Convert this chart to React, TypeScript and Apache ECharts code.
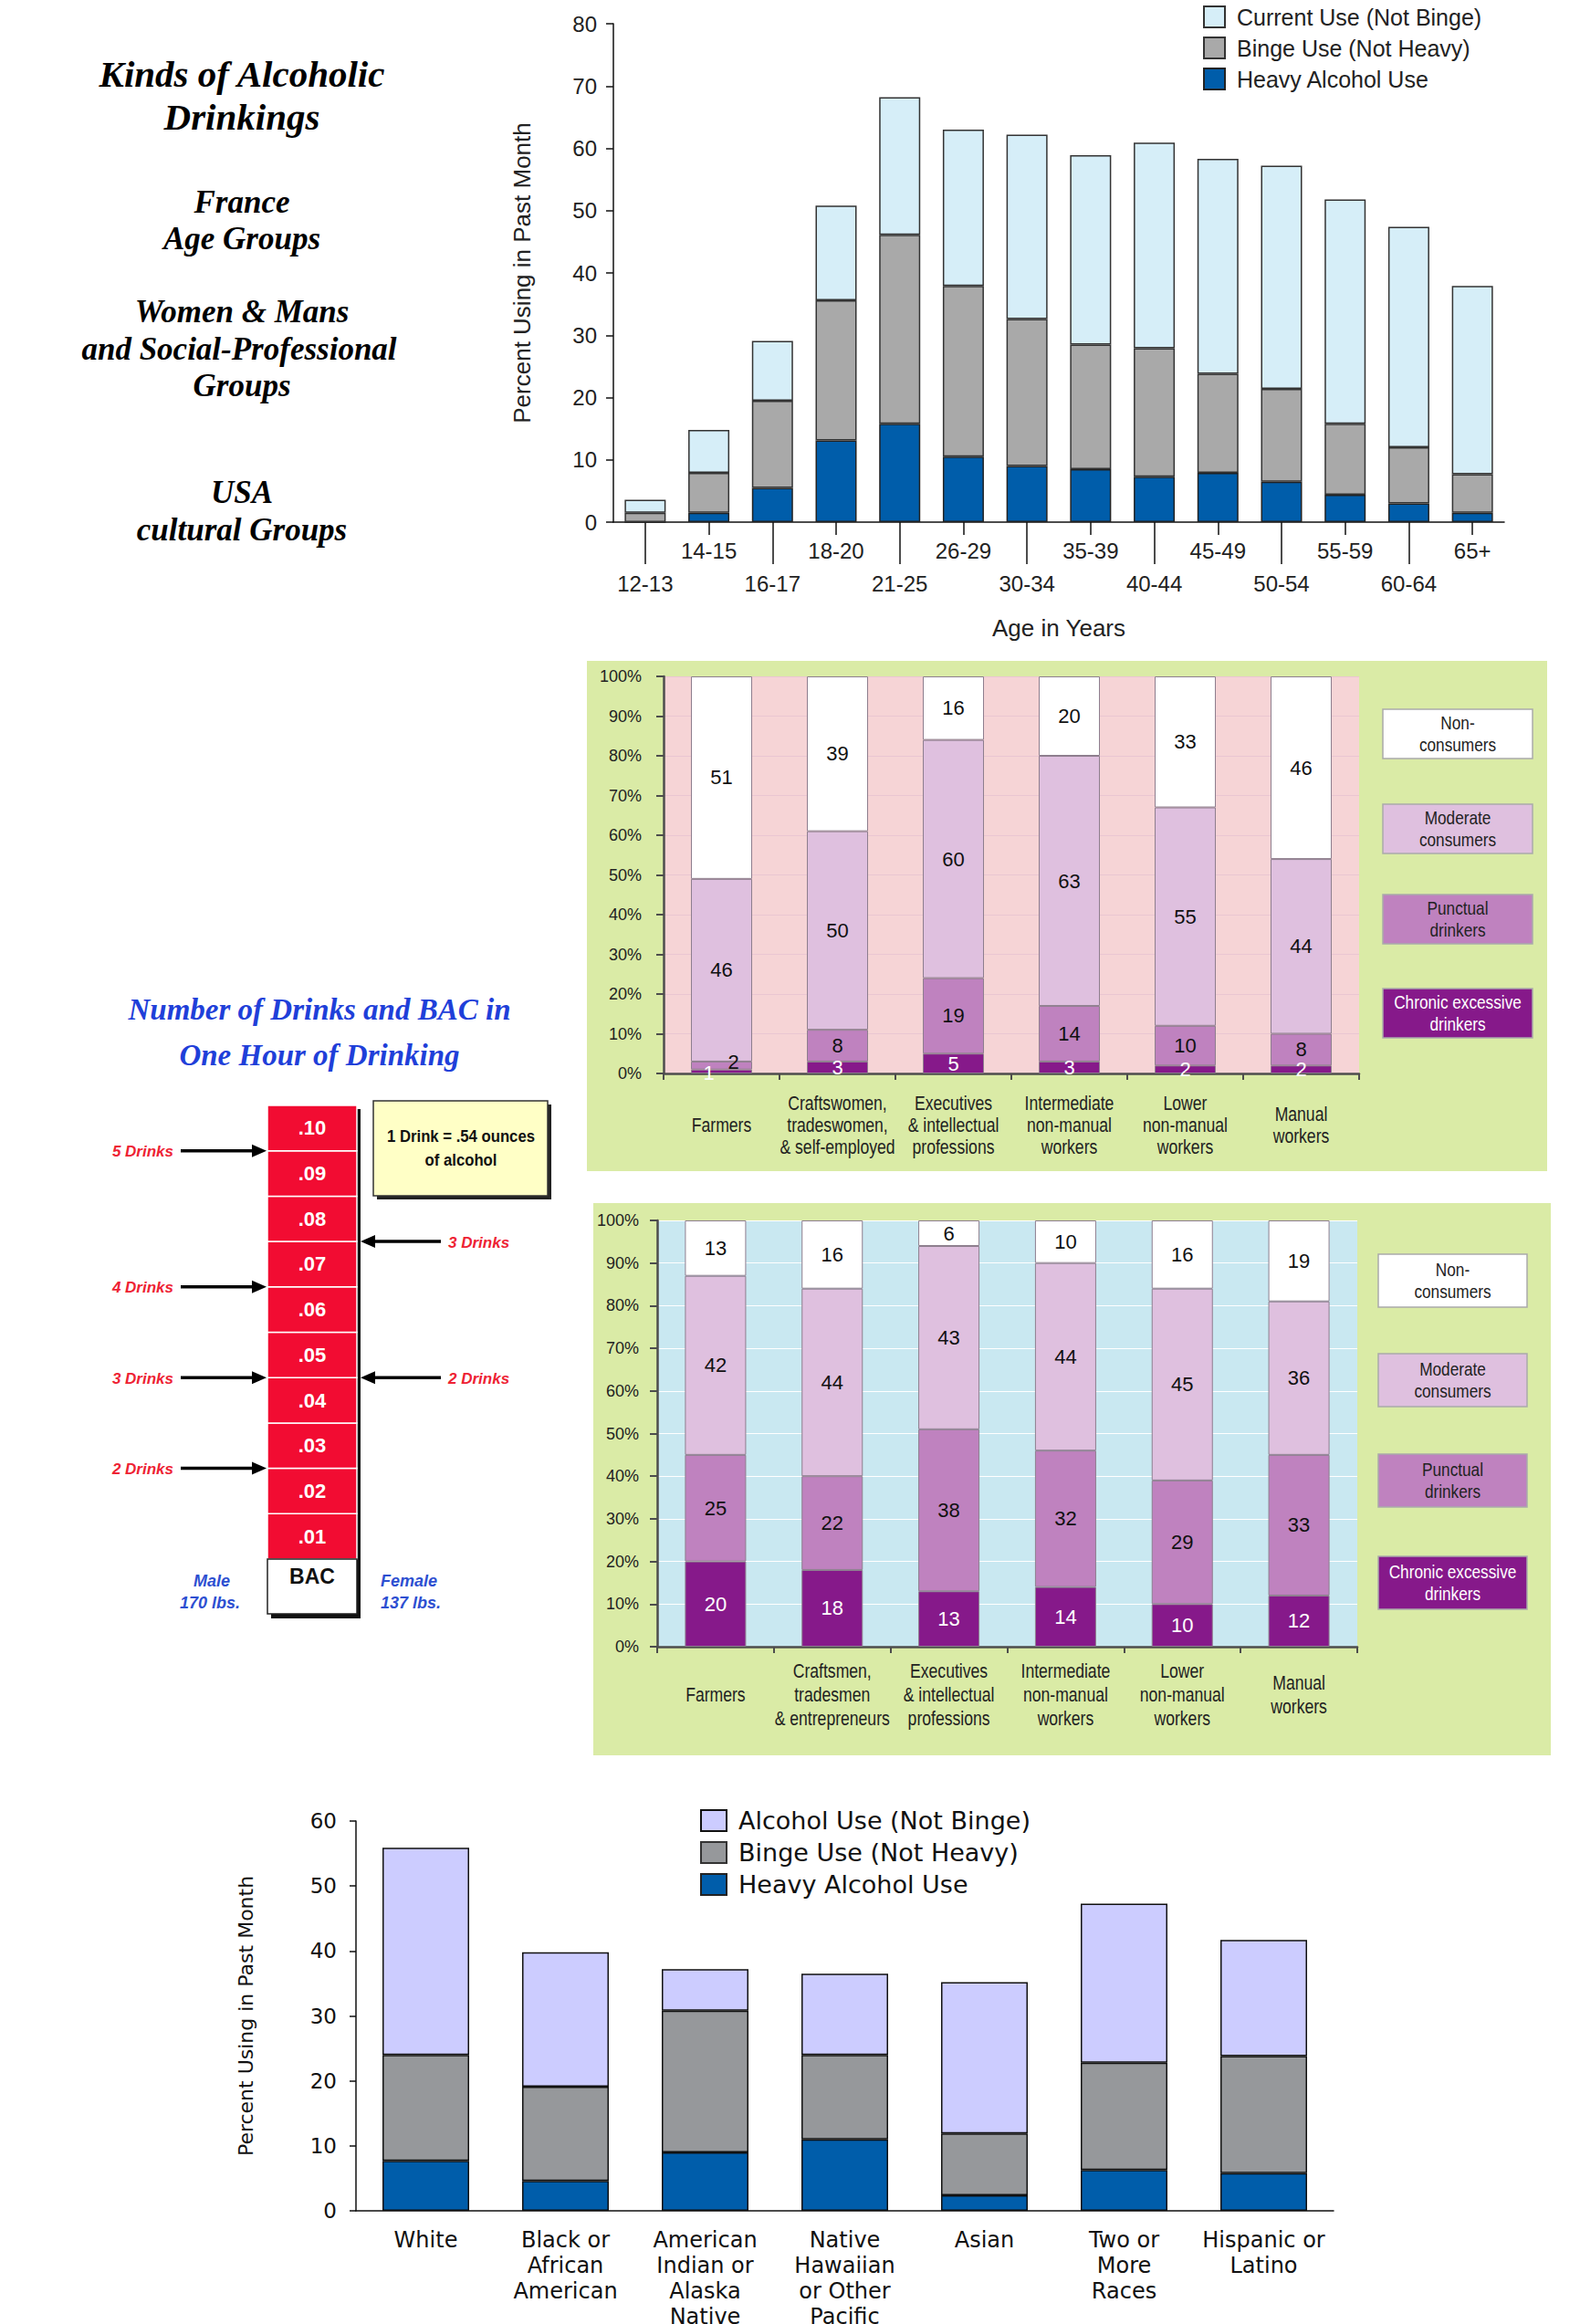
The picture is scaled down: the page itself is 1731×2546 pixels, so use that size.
import React, { useEffect, useRef } from 'react';
import * as echarts from 'echarts';

// ---------- Data ----------
const AGE_GROUPS = ['12-13', '14-15', '16-17', '18-20', '21-25', '26-29', '30-34', '35-39', '40-44', '45-49', '50-54', '55-59', '60-64', '65+'];
const AGE_HEAVY = [0, 1.5, 5.5, 13.1, 15.8, 10.5, 9.0, 8.5, 7.3, 7.9, 6.5, 4.4, 3.0, 1.5];
const AGE_BINGE = [1.5, 6.4, 14.0, 22.5, 30.3, 27.4, 23.6, 20.0, 20.6, 15.9, 14.9, 11.4, 9.0, 6.2];
const AGE_CURRENT = [2.1, 6.9, 9.6, 15.2, 22.1, 25.1, 29.6, 30.4, 33.0, 34.5, 35.8, 36.0, 35.4, 30.2];

const FR_CATEGORIES = ['Non-consumers', 'Moderate consumers', 'Punctual drinkers', 'Chronic excessive drinkers'];
const FR_LEGEND_TEXT = ['Non-\nconsumers', 'Moderate\nconsumers', 'Punctual\ndrinkers', 'Chronic excessive\ndrinkers'];

const FR_WOMEN_GROUPS = ['Farmers', 'Craftswomen,\ntradeswomen,\n& self-employed', 'Executives\n& intellectual\nprofessions', 'Intermediate\nnon-manual\nworkers', 'Lower\nnon-manual\nworkers', 'Manual\nworkers'];
const W_CHRONIC = [1, 3, 5, 3, 2, 2];
const W_PUNCTUAL = [2, 8, 19, 14, 10, 8];
const W_MODERATE = [46, 50, 60, 63, 55, 44];
const W_NON = [51, 39, 16, 20, 33, 46];

const FR_MEN_GROUPS = ['Farmers', 'Craftsmen,\ntradesmen\n& entrepreneurs', 'Executives\n& intellectual\nprofessions', 'Intermediate\nnon-manual\nworkers', 'Lower\nnon-manual\nworkers', 'Manual\nworkers'];
const M_CHRONIC = [20, 18, 13, 14, 10, 12];
const M_PUNCTUAL = [25, 22, 38, 32, 29, 33];
const M_MODERATE = [42, 44, 43, 44, 45, 36];
const M_NON = [13, 16, 6, 10, 16, 19];

const USA_GROUPS = ['White', 'Black or\nAfrican\nAmerican', 'American\nIndian or\nAlaska\nNative', 'Native\nHawaiian\nor Other\nPacific\nIslander', 'Asian', 'Two or\nMore\nRaces', 'Hispanic or\nLatino'];
const USA_HEAVY = [7.7, 4.6, 9.0, 11.0, 2.4, 6.3, 5.8];
const USA_BINGE = [16.3, 14.5, 21.8, 13.0, 9.5, 16.5, 18.0];
const USA_ALCOHOL = [31.9, 20.7, 6.4, 12.5, 23.3, 24.5, 17.9];

const BAC_LEVELS = [0.01, 0.02, 0.03, 0.04, 0.05, 0.06, 0.07, 0.08, 0.09, 0.10];
const MALE_MARKS = [
  { drinks: 5, bac: 0.09 },
  { drinks: 4, bac: 0.06 },
  { drinks: 3, bac: 0.04 },
  { drinks: 2, bac: 0.02 },
];
const FEMALE_MARKS = [
  { drinks: 3, bac: 0.07 },
  { drinks: 2, bac: 0.04 },
];

// ---------- Styles ----------
const SANS = '"Liberation Sans", Arial, sans-serif';
const WIDE = '"DejaVu Sans", sans-serif';
const SERIF = '"Liberation Serif", "Times New Roman", serif';

const C_LIGHTBLUE = '#D6EEF8';
const C_GRAY1 = '#A9A9A9';
const C_BLUE = '#005DAA';
const C_LAVENDER = '#CCCCFF';
const C_GRAY4 = '#96989B';
const FR_COLORS = ['#FFFFFF', '#DFC0DF', '#BF82BF', '#86198A'];
const C_GREEN = '#DAEBA6';
const C_PINK = '#F6D4D6';
const C_PALEBLUE = '#C9E8F1';
const C_RED = '#F20C32';
const C_TITLEBLUE = '#1F3FD9';
const C_LABELBLUE = '#2D4FD1';
const C_ARROWRED = '#EE2233';

function txt(text: string, x: number, y: number, o: any = {}) {
  const align = o.align || 'center';
  const va = o.va || 'middle';
  return {
    type: 'text',
    x,
    y,
    scaleX: o.scaleX ?? 1,
    z: o.z ?? 5,
    style: {
      text,
      x: 0,
      y: 0,
      fill: o.fill || '#000',
      fontSize: o.size || 20,
      fontFamily: o.family || SANS,
      fontWeight: o.weight || 'normal',
      fontStyle: o.style || 'normal',
      lineHeight: o.lineHeight,
      align,
      verticalAlign: va,
      textAlign: align,
      textVerticalAlign: va,
    },
  };
}

function rect(x: number, y: number, w: number, h: number, fill: string, o: any = {}) {
  return {
    type: 'rect',
    z: o.z ?? 1,
    shape: { x, y, width: w, height: h },
    style: { fill, stroke: o.stroke || null, lineWidth: o.lineWidth || 0 },
  };
}

function frLegend(x: number, tops: number[], w: number, h: number) {
  const els: any[] = [];
  FR_CATEGORIES.forEach((_, i) => {
    els.push(rect(x, tops[i], w, h, FR_COLORS[i], { stroke: '#ABABAB', lineWidth: 1.5, z: 3 }));
    els.push(
      txt(FR_LEGEND_TEXT[i], x + w / 2, tops[i] + h / 2, {
        size: 21,
        lineHeight: 24,
        scaleX: 0.82,
        fill: i === 3 ? '#FFFFFF' : '#222',
        z: 4,
      })
    );
  });
  return els;
}

function frSeries(name: string, data: any[], colorIdx: number, xi: number, yi: number, stack: string) {
  return {
    name,
    type: 'bar',
    stack,
    xAxisIndex: xi,
    yAxisIndex: yi,
    barWidth: 67,
    data,
    itemStyle: { color: FR_COLORS[colorIdx], borderColor: '#8E7E8E', borderWidth: 1 },
    label: {
      show: true,
      position: 'inside',
      fontFamily: SANS,
      fontSize: 22,
      color: colorIdx === 3 ? '#FFFFFF' : '#111',
    },
  };
}

// Category labels drawn through the category axis scale, horizontally condensed
function frLabelSeries(labels: string[], xi: number, yi: number, dy: number, lh: number) {
  return {
    name: 'labels-' + xi,
    type: 'custom',
    xAxisIndex: xi,
    yAxisIndex: yi,
    silent: true,
    clip: false,
    data: labels.map((_, i) => [i, 0]),
    encode: { x: 0, y: 1 },
    renderItem: (params: any, api: any) => {
      const p = api.coord([api.value(0), 0]);
      return {
        type: 'text',
        x: p[0],
        y: p[1] + dy,
        scaleX: 0.8,
        style: {
          text: labels[params.dataIndex],
          x: 0,
          y: 0,
          fill: '#222',
          fontSize: 22,
          lineHeight: lh,
          fontFamily: SANS,
          align: 'center',
          verticalAlign: 'middle',
          textAlign: 'center',
          textVerticalAlign: 'middle',
        },
      };
    },
  };
}

function frYAxis(gridIndex: number, split: string, margin: number) {
  return {
    type: 'value',
    gridIndex,
    min: 0,
    max: 100,
    interval: 10,
    axisLine: { show: true, lineStyle: { color: '#4D4D4D', width: 2.5 } },
    axisTick: { show: true, length: 8, lineStyle: { color: '#4D4D4D', width: 2 } },
    axisLabel: { formatter: '{value}%', fontFamily: SANS, fontSize: 18, color: '#222', margin },
    splitLine: { show: true, lineStyle: { color: split, width: 1.2 } },
  };
}

function frXAxis(gridIndex: number, data: string[]) {
  return {
    type: 'category',
    gridIndex,
    data,
    axisLine: { show: true, lineStyle: { color: '#4D4D4D', width: 2.5 } },
    axisTick: { show: true, length: 7, lineStyle: { color: '#4D4D4D', width: 2 } },
    axisLabel: { show: false },
  };
}

function buildOption(): any {
  const wChronic = W_CHRONIC.map((v, i) => (i === 0 ? { value: v, label: { offset: [-14, 2] } } : v));
  const wPunct = W_PUNCTUAL.map((v, i) => (i === 0 ? { value: v, label: { offset: [13, -4] } } : v));

  const title = { family: SERIF, weight: 'bold', style: 'italic' };
  const graphic: any[] = [
    // Left-hand titles
    txt('Kinds of Alcoholic', 265, 81, { ...title, size: 41 }),
    txt('Drinkings', 265, 128, { ...title, size: 41 }),
    txt('France', 265, 221, { ...title, size: 35 }),
    txt('Age Groups', 265, 261, { ...title, size: 35 }),
    txt('Women & Mans', 265, 341, { ...title, size: 35 }),
    txt('and Social-Professional', 262, 382, { ...title, size: 35 }),
    txt('Groups', 265, 422, { ...title, size: 35 }),
    txt('USA', 265, 539, { ...title, size: 35 }),
    txt('cultural Groups', 265, 580, { ...title, size: 35 }),

    // Green panels behind the French charts
    rect(643, 724, 1052, 559, C_GREEN, { z: -10 }),
    rect(650, 1318, 1049, 605, C_GREEN, { z: -10 }),

    ...frLegend(1515, [777, 881, 980, 1083], 164, 54),
    ...frLegend(1510, [1374, 1483, 1593, 1705], 163, 58),

    // BAC diagram
    txt('Number of Drinks and BAC in', 350, 1106, { ...title, size: 33, fill: C_TITLEBLUE }),
    txt('One Hour of Drinking', 350, 1156, { ...title, size: 33, fill: C_TITLEBLUE }),
    rect(297, 1215, 98, 558, '#111111', { z: 1 }),
    rect(293, 1708, 98, 60, '#FFFFFF', { stroke: '#222', lineWidth: 1.5, z: 3 }),
    txt('BAC', 342, 1727, { size: 23, weight: 'bold', fill: '#111', z: 4 }),
    txt('Male', 232, 1732, { size: 18, weight: 'bold', style: 'italic', fill: C_LABELBLUE }),
    txt('170 lbs.', 230, 1756, { size: 18, weight: 'bold', style: 'italic', fill: C_LABELBLUE }),
    txt('Female', 417, 1732, { size: 18, weight: 'bold', style: 'italic', fill: C_LABELBLUE, align: 'left' }),
    txt('137 lbs.', 417, 1756, { size: 18, weight: 'bold', style: 'italic', fill: C_LABELBLUE, align: 'left' }),
    rect(413, 1210, 191, 104, '#222222', { z: 1 }),
    rect(409, 1206, 191, 104, '#FFFFC6', { stroke: '#333', lineWidth: 1.5, z: 3 }),
    txt('1 Drink = .54 ounces', 505, 1245, { size: 19, weight: 'bold', fill: '#111', z: 4, scaleX: 0.88 }),
    txt('of alcohol', 505, 1271, { size: 19, weight: 'bold', fill: '#111', z: 4, scaleX: 0.88 }),
  ];

  const cellRender = (params: any, api: any) => {
    const v = api.value(1) as number;
    const tl = api.coord([0, v]);
    const br = api.coord([1, v - 0.01]);
    const label = '.' + String(Math.round(v * 100)).padStart(2, '0');
    return {
      type: 'group',
      children: [
        {
          type: 'rect',
          shape: { x: tl[0], y: tl[1], width: br[0] - tl[0], height: br[1] - tl[1] },
          style: { fill: C_RED, stroke: '#FFFFFF', lineWidth: 1.5 },
        },
        {
          type: 'text',
          style: {
            text: label,
            x: (tl[0] + br[0]) / 2,
            y: (tl[1] + br[1]) / 2,
            fill: '#FFFFFF',
            fontSize: 22,
            fontWeight: 'bold',
            fontFamily: SANS,
            align: 'center',
            verticalAlign: 'middle',
            textAlign: 'center',
            textVerticalAlign: 'middle',
          },
        },
      ],
    };
  };

  const arrowRender = (params: any, api: any) => {
    const side = api.value(0) as number;
    const p = api.coord([side, api.value(1)]);
    const drinks = api.value(2);
    const dir = side === 0 ? -1 : 1;
    const tip = p[0] + (side === 0 ? -1 : 4);
    const tail = p[0] + dir * (side === 0 ? 95 : 92);
    const y = p[1];
    const headLen = 16;
    const align = side === 0 ? 'right' : 'left';
    return {
      type: 'group',
      children: [
        {
          type: 'line',
          shape: { x1: tail, y1: y, x2: tip + dir * headLen * 0.8, y2: y },
          style: { stroke: '#000', lineWidth: 3.5 },
        },
        {
          type: 'polygon',
          shape: { points: [[tip, y], [tip + dir * headLen, y - 7], [tip + dir * headLen, y + 7]] },
          style: { fill: '#000' },
        },
        {
          type: 'text',
          style: {
            text: drinks + ' Drinks',
            x: tail + dir * 8,
            y: y + 1,
            fill: C_ARROWRED,
            fontSize: 17,
            fontWeight: 'bold',
            fontStyle: 'italic',
            fontFamily: SANS,
            align,
            verticalAlign: 'middle',
            textAlign: align,
            textVerticalAlign: 'middle',
          },
        },
      ],
    };
  };

  const noBounds = { outerBoundsMode: 'none', containLabel: false };

  return {
    animation: false,
    backgroundColor: '#FFFFFF',
    grid: [
      { left: 672, top: 26, width: 976, height: 546, ...noBounds },
      { left: 727, top: 741, width: 762, height: 435, show: true, backgroundColor: C_PINK, borderWidth: 0, ...noBounds },
      { left: 720, top: 1337, width: 767, height: 467, show: true, backgroundColor: C_PALEBLUE, borderWidth: 0, ...noBounds },
      { left: 390, top: 1995, width: 1071, height: 427, ...noBounds },
      { left: 293, top: 1211, width: 98, height: 497, ...noBounds },
    ],
    legend: [
      {
        left: 1318,
        top: 6,
        orient: 'vertical',
        padding: 0,
        itemWidth: 23,
        itemHeight: 23,
        itemGap: 9,
        selectedMode: false,
        icon: 'rect',
        data: [
          { name: 'Current Use (Not Binge)', itemStyle: { color: C_LIGHTBLUE } },
          { name: 'Binge Use (Not Heavy)', itemStyle: { color: C_GRAY1 } },
          { name: 'Heavy Alcohol Use', itemStyle: { color: C_BLUE } },
        ],
        textStyle: { fontFamily: SANS, fontSize: 25, lineHeight: 23, color: '#222', padding: [0, 0, 0, 8] },
      },
      {
        left: 767,
        top: 1981,
        orient: 'vertical',
        padding: 0,
        itemWidth: 28,
        itemHeight: 23,
        itemGap: 8,
        selectedMode: false,
        icon: 'rect',
        data: [
          { name: 'Alcohol Use (Not Binge)', itemStyle: { color: C_LAVENDER } },
          { name: 'Binge Use (Not Heavy)', itemStyle: { color: C_GRAY4 } },
          { name: 'Heavy Alcohol Use', itemStyle: { color: C_BLUE } },
        ],
        textStyle: { fontFamily: WIDE, fontSize: 27, lineHeight: 23, color: '#111', padding: [0, 0, 0, 8] },
      },
    ],
    xAxis: [
      {
        type: 'category',
        gridIndex: 0,
        data: AGE_GROUPS,
        position: 'bottom',
        axisLine: { show: true, lineStyle: { color: '#111', width: 1.5 } },
        axisTick: { show: true, alignWithLabel: true, length: 46, interval: (i: number) => i % 2 === 0, lineStyle: { color: '#111', width: 1.5 } },
        axisLabel: { interval: (i: number) => i % 2 === 0, margin: 55, fontFamily: SANS, fontSize: 24, color: '#222' },
        name: 'Age in Years',
        nameLocation: 'middle',
        nameGap: 103,
        nameTextStyle: { fontFamily: SANS, fontSize: 26, color: '#222' },
      },
      {
        type: 'category',
        gridIndex: 0,
        data: AGE_GROUPS,
        position: 'bottom',
        offset: 0,
        axisLine: { show: false },
        axisTick: { show: true, alignWithLabel: true, length: 14, interval: (i: number) => i % 2 === 1, lineStyle: { color: '#111', width: 1.5 } },
        axisLabel: { interval: (i: number) => i % 2 === 1, margin: 19, fontFamily: SANS, fontSize: 24, color: '#222' },
      },
      frXAxis(1, FR_WOMEN_GROUPS),
      frXAxis(2, FR_MEN_GROUPS),
      {
        type: 'category',
        gridIndex: 3,
        data: USA_GROUPS,
        axisLine: { show: true, lineStyle: { color: '#111', width: 1.5 } },
        axisTick: { show: false },
        axisLabel: { interval: 0, margin: 18, fontFamily: WIDE, fontSize: 24, lineHeight: 28, color: '#111' },
      },
      { type: 'value', gridIndex: 4, min: 0, max: 1, show: false },
    ],
    yAxis: [
      {
        type: 'value',
        gridIndex: 0,
        min: 0,
        max: 80,
        interval: 10,
        axisLine: { show: true, lineStyle: { color: '#111', width: 1.5 } },
        axisTick: { show: true, length: 8, lineStyle: { color: '#111', width: 1.5 } },
        axisLabel: { margin: 18, fontFamily: SANS, fontSize: 24, color: '#222' },
        splitLine: { show: false },
        name: 'Percent Using in Past Month',
        nameLocation: 'middle',
        nameGap: 87,
        nameTextStyle: { fontFamily: SANS, fontSize: 26, color: '#222' },
      },
      frYAxis(1, '#EAC6D2', 24),
      frYAxis(2, '#FFFFFF', 20),
      {
        type: 'value',
        gridIndex: 3,
        min: 0,
        max: 60,
        interval: 10,
        axisLine: { show: true, lineStyle: { color: '#111', width: 1.5 } },
        axisTick: { show: true, length: 7, lineStyle: { color: '#111', width: 1.5 } },
        axisLabel: { margin: 21, fontFamily: WIDE, fontSize: 23, color: '#111' },
        splitLine: { show: false },
        name: 'Percent Using in Past Month',
        nameLocation: 'middle',
        nameGap: 110,
        nameTextStyle: { fontFamily: WIDE, fontSize: 22, color: '#111' },
      },
      { type: 'value', gridIndex: 4, min: 0, max: 0.1, show: false },
    ],
    series: [
      // Age chart
      { name: 'Heavy Alcohol Use', type: 'bar', stack: 'age', xAxisIndex: 0, yAxisIndex: 0, barWidth: 45, data: AGE_HEAVY, itemStyle: { color: C_BLUE, borderColor: '#222', borderWidth: 1.5 } },
      { name: 'Binge Use (Not Heavy)', type: 'bar', stack: 'age', xAxisIndex: 0, yAxisIndex: 0, barWidth: 45, data: AGE_BINGE, itemStyle: { color: C_GRAY1, borderColor: '#333', borderWidth: 1.5 } },
      { name: 'Current Use (Not Binge)', type: 'bar', stack: 'age', xAxisIndex: 0, yAxisIndex: 0, barWidth: 45, data: AGE_CURRENT, itemStyle: { color: C_LIGHTBLUE, borderColor: '#333', borderWidth: 1.5 } },

      // France women
      frSeries(FR_CATEGORIES[3], wChronic, 3, 2, 1, 'w'),
      frSeries(FR_CATEGORIES[2], wPunct, 2, 2, 1, 'w'),
      frSeries(FR_CATEGORIES[1], W_MODERATE, 1, 2, 1, 'w'),
      frSeries(FR_CATEGORIES[0], W_NON, 0, 2, 1, 'w'),
      frLabelSeries(FR_WOMEN_GROUPS, 2, 1, 56, 24),

      // France men
      frSeries(FR_CATEGORIES[3], M_CHRONIC, 3, 3, 2, 'm'),
      frSeries(FR_CATEGORIES[2], M_PUNCTUAL, 2, 3, 2, 'm'),
      frSeries(FR_CATEGORIES[1], M_MODERATE, 1, 3, 2, 'm'),
      frSeries(FR_CATEGORIES[0], M_NON, 0, 3, 2, 'm'),
      frLabelSeries(FR_MEN_GROUPS, 3, 2, 52, 26),

      // USA
      { name: 'Heavy Alcohol Use', type: 'bar', stack: 'usa', xAxisIndex: 4, yAxisIndex: 3, barWidth: 95, data: USA_HEAVY, itemStyle: { color: C_BLUE, borderColor: '#111', borderWidth: 1.5 } },
      { name: 'Binge Use (Not Heavy)', type: 'bar', stack: 'usa', xAxisIndex: 4, yAxisIndex: 3, barWidth: 95, data: USA_BINGE, itemStyle: { color: C_GRAY4, borderColor: '#111', borderWidth: 1.5 } },
      { name: 'Alcohol Use (Not Binge)', type: 'bar', stack: 'usa', xAxisIndex: 4, yAxisIndex: 3, barWidth: 95, data: USA_ALCOHOL, itemStyle: { color: C_LAVENDER, borderColor: '#111', borderWidth: 1.5 } },

      // BAC column
      {
        name: 'BAC',
        type: 'custom',
        xAxisIndex: 5,
        yAxisIndex: 4,
        renderItem: cellRender,
        data: BAC_LEVELS.map((v) => [0, v]),
        encode: { x: 0, y: 1 },
        clip: false,
        z: 2,
      },
      {
        name: 'Male 170 lbs.',
        type: 'custom',
        xAxisIndex: 5,
        yAxisIndex: 4,
        renderItem: arrowRender,
        data: MALE_MARKS.map((m) => [0, m.bac, m.drinks]),
        encode: { x: 0, y: 1 },
        clip: false,
        z: 3,
      },
      {
        name: 'Female 137 lbs.',
        type: 'custom',
        xAxisIndex: 5,
        yAxisIndex: 4,
        renderItem: arrowRender,
        data: FEMALE_MARKS.map((m) => [1, m.bac, m.drinks]),
        encode: { x: 0, y: 1 },
        clip: false,
        z: 3,
      },
    ],
    graphic: { elements: graphic },
  };
}

export default function App() {
  const ref = useRef<HTMLDivElement>(null);
  useEffect(() => {
    if (!ref.current) return;
    const chart = echarts.init(ref.current, null, { renderer: 'svg' });
    chart.setOption(buildOption());
    return () => chart.dispose();
  }, []);
  return (
    <div
      ref={ref}
      style={{ position: 'absolute', left: 0, top: 0, width: 1731, height: 2546, background: '#FFFFFF' }}
    />
  );
}
